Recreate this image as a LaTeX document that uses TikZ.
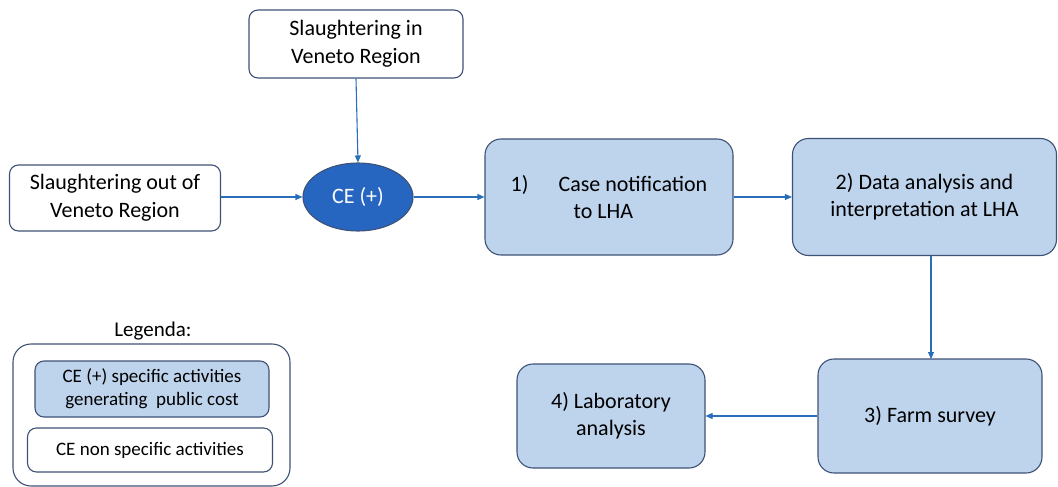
\documentclass[tikz,border=0pt]{standalone}
\usepackage{fontspec}
\setmainfont{Carlito}
\usetikzlibrary{shapes.geometric,arrows.meta}
\definecolor{boxfill}{RGB}{190,211,236}
\definecolor{boxline}{RGB}{62,82,118}
\definecolor{ellfill}{RGB}{38,102,192}
\definecolor{arrowcol}{RGB}{40,110,185}
\tikzset{
  wbox/.style={draw=boxline, line width=1.1pt, rounded corners=9pt, fill=white, align=center, inner sep=0pt, font=\fontsize{22}{28}\selectfont},
  bbox/.style={draw=boxline, line width=1.1pt, rounded corners=16pt, fill=boxfill, align=center, inner sep=0pt, font=\fontsize{22}{27}\selectfont},
  lbox/.style={draw=boxline, line width=1.1pt, rounded corners=9pt, align=center, inner sep=0pt, font=\fontsize{19}{23}\selectfont},
  conn/.style={draw=arrowcol, line width=1.1pt, -{Triangle[length=7pt,width=6pt]}},
}
\begin{document}
\begin{tikzpicture}[x=1pt,y=-1pt]
\useasboundingbox (0,0) rectangle (1058,487);
\node[wbox, minimum width=214pt, minimum height=68pt] (sin) at (356,44) {Slaughtering in\\Veneto Region};
\node[wbox, minimum width=211pt, minimum height=66pt] (sout) at (115,198) {Slaughtering out of\\Veneto Region};
\node[ellipse, draw=boxline, line width=1.1pt, fill=ellfill, text=white, minimum width=110pt, minimum height=68pt, inner sep=0pt, font=\fontsize{22}{26}\selectfont] (ce) at (358,197) {CE (+)};
\node[bbox, align=left, minimum width=248pt, minimum height=116pt] (b1) at (609,197) {1)\hspace{30pt}Case notification\\\hspace{63pt}to LHA};
\node[bbox, minimum width=264pt, minimum height=117pt] (b2) at (924.5,197) {2) Data analysis and\\interpretation at LHA};
\node[bbox, minimum width=224pt, minimum height=114pt] (b3) at (930,416) {3) Farm survey};
\node[bbox, minimum width=188pt, minimum height=104pt] (b4) at (611,416) {4) Laboratory\\analysis};
\draw[conn] (sin.south) -- (ce.north);
\draw[conn] (sout.east |- ce.west) -- (ce.west);
\draw[conn] (ce.east) -- (b1.west);
\draw[conn] (b1.east) -- (b2.west);
\draw[conn] (b3.west) -- (b4.east);
\coordinate (b2s) at (931,255.5);
\coordinate (b3n) at (931,359);
\draw[conn] (b2s) -- (b3n);
% legend
\node[font=\fontsize{21}{24}\selectfont] (legt) at (153,331) {Legenda:};
\node[draw=boxline, line width=1.1pt, rounded corners=18pt, minimum width=277pt, minimum height=142pt, inner sep=0pt] (leg) at (151.5,415) {};
\node[lbox, fill=boxfill, minimum width=234pt, minimum height=56pt] (l1) at (152,389) {CE (+) specific activities\\generating\ \ public cost};
\node[lbox, fill=white, minimum width=245pt, minimum height=44pt] (l2) at (150,450) {CE non specific activities};
\end{tikzpicture}
\end{document}
